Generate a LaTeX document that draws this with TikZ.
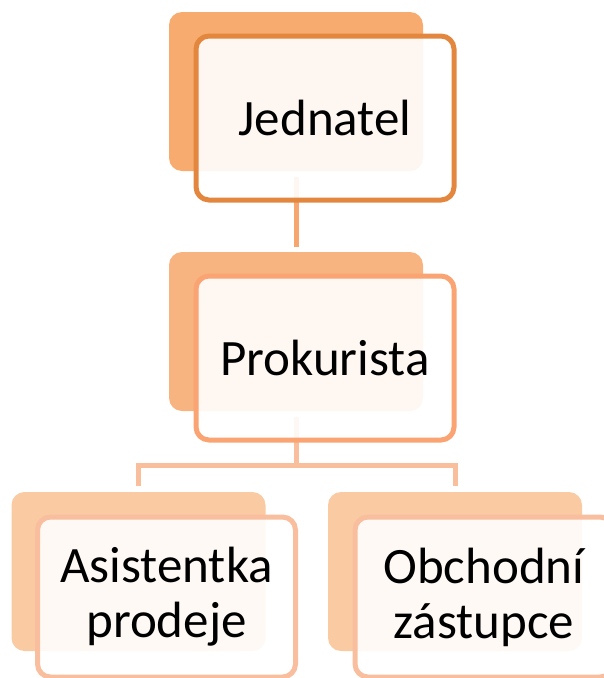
\documentclass[tikz,border=0pt]{standalone}
\usepackage{fontspec}
\setmainfont{Carlito}
\usetikzlibrary{positioning}

\definecolor{backA}{HTML}{F8AB6E}
\definecolor{lineA}{HTML}{E3873F}
\definecolor{connA}{HTML}{F7A670}
\definecolor{backB}{HTML}{F8B480}
\definecolor{lineB}{HTML}{F9A472}
\definecolor{connB}{HTML}{F9BF9C}
\definecolor{backC}{HTML}{FACBA3}
\definecolor{lineC}{HTML}{F9BE9E}

\tikzset{
  backbox/.style={rounded corners=13pt, minimum width=254pt, minimum height=159pt,
    inner sep=0pt, outer sep=0pt, fill=#1},
  frontbox/.style={rounded corners=13pt, minimum width=258pt, minimum height=164pt,
    inner sep=0pt, outer sep=0pt, draw=#1, line width=5pt, fill=white, fill opacity=0.9,
    text opacity=1, align=center, font=\fontsize{51}{55}\selectfont},
  conn/.style={line width=5pt, draw=#1},
}

\begin{document}
\begin{tikzpicture}[x=1pt, y=-1pt]
  \clip (0,0) rectangle (604,678);
  \useasboundingbox (0,0) rectangle (604,678);

  % back plates
  \node[backbox=backA] (topback) at (296,91.5) {};
  \node[backbox=backB] (midback) at (296,331.5) {};
  \node[backbox=backC] (leftback) at (138.5,571.5) {};
  \node[backbox=backC] (rightback) at (455,571.5) {};

  % connectors
  \draw[conn=connA] ([yshift=-6pt]topback.south) -- ([yshift=5pt]midback.north);
  \draw[conn=connB] ([yshift=-6pt]midback.south) -- ++(0,48) -| ([yshift=6pt]leftback.north);
  \draw[conn=connB] ([yshift=-6pt]midback.south) -- ++(0,48) -| ([yshift=6pt]rightback.north);

  % front cards with labels
  \node[frontbox=lineA] (jednatel) at (325,118) {Jednatel};
  \node[frontbox=lineB] (prokurista) at (325,358) {Prokurista};
  \node[frontbox=lineC, minimum height=160pt] (asistentka) at (166.5,597) {Asistentka\\prodeje};
  \node[frontbox=lineC, minimum height=160pt] (zastupce) at (484,597) {Obchodní\\zástupce};
\end{tikzpicture}
\end{document}
